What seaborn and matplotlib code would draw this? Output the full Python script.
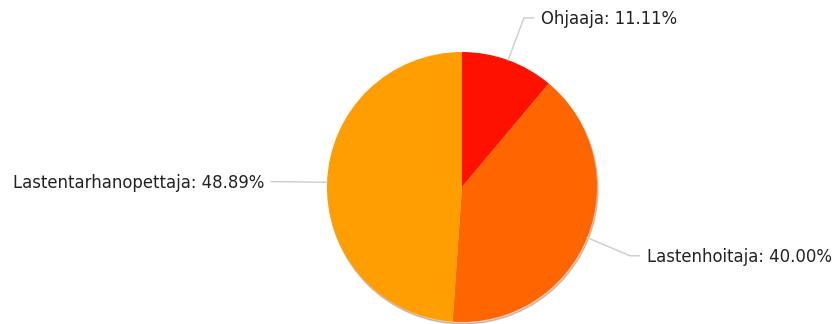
import numpy as np
import seaborn as sns
import matplotlib.pyplot as plt
from matplotlib.patches import Circle

labels = ["Ohjaaja", "Lastenhoitaja", "Lastentarhanopettaja"]
shares = [11.11, 40.00, 48.89]
colors = ["#ff1100", "#ff6600", "#ff9e01"]

sns.set_style("white")
plt.rcParams["font.family"] = ["DejaVu Sans"]

W, H = 834, 324
fig = plt.figure(figsize=(W / 100, H / 100), dpi=100)
ax = fig.add_axes([0, 0, 1, 1])

cx, cy, r = 462, 137, 135

# soft shadow under the pie
ax.add_patch(Circle((cx + 1, cy - 2), r, color="#7a3a00", alpha=0.25, zorder=0))

wedges, _ = ax.pie(shares, colors=colors, startangle=90, counterclock=False,
                   center=(cx, cy), radius=r, wedgeprops=dict(linewidth=0))

for w, lab, val in zip(wedges, labels, shares):
    mid = np.deg2rad((w.theta1 + w.theta2) / 2)
    x0, y0 = cx + r * np.cos(mid), cy + r * np.sin(mid)
    x1, y1 = cx + 181 * np.cos(mid), cy + 181 * np.sin(mid) - 1
    side = 1 if np.cos(mid) >= 0 else -1
    x2 = x1 + side * 10
    ax.plot([x0, x1, x2], [y0, y1, y1], color="#cccccc", lw=1, zorder=1)
    ax.text(x2 + side * 7, y1 - 1, f"{lab}: {val:.2f}%", ha="left" if side > 0 else "right",
            va="center", fontsize=11.9, color="#222222")

ax.set_xlim(0, W)
ax.set_ylim(0, H)
ax.set_aspect("equal")
ax.axis("off")

fig.savefig("out.png", dpi=100, facecolor="white")
